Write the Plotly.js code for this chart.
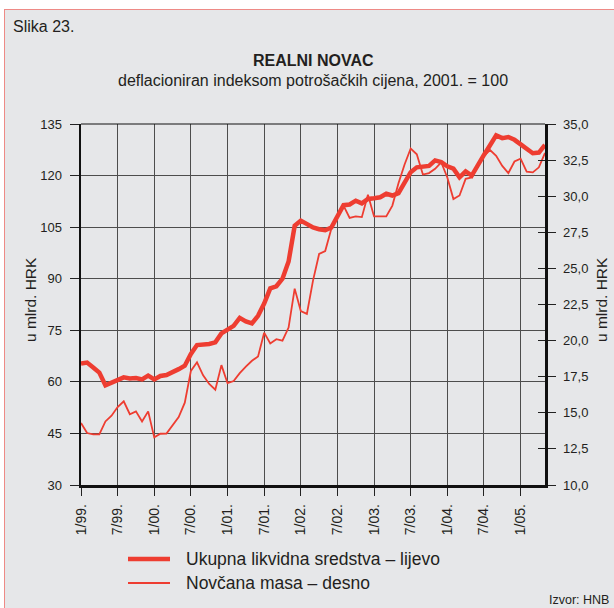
<!DOCTYPE html>
<html>
<head>
<meta charset="utf-8">
<script src="https://cdn.plot.ly/plotly-3.0.1.min.js"></script>
<style>
  html, body { margin: 0; padding: 0; background: #ffffff; }
  #frame { position: absolute; left: 4px; top: 9px; width: 700px; height: 700px;
           background: #e6e7e9; border: 1px solid #ee8a86; }
  #chart { position: absolute; left: 0; top: 0; width: 614px; height: 608px; }
</style>
</head>
<body>
<div id="frame"></div>
<div id="chart"></div>
<script>
// ---- data (monthly, 1/1999 .. 5/2005) ----
const tickLabels = ['1/99.', '7/99.', '1/00.', '7/00.', '1/01.', '7/01.', '1/02.', '7/02.', '1/03.', '7/03.', '1/04.', '7/04.', '1/05.'];
const tickMonths = [0, 6, 12, 18, 24, 30, 36, 42, 48, 54, 60, 66, 72];

// Ukupna likvidna sredstva (left axis)
const ukupna = [
  65.3, 65.6, 64.2, 62.7, 59.0, 59.8, 60.5, 61.3, 61.0, 61.1, 60.7, 61.8,
  60.7, 61.7, 62.0, 62.7, 63.7, 64.7, 68.1, 70.7, 70.7, 71.0, 71.5, 74.1,
  75.2, 76.3, 78.6, 77.6, 77.0, 79.2, 82.8, 87.2, 87.8, 90.0, 95.0, 105.4,
  106.9, 105.9, 104.9, 104.4, 104.1, 104.9, 108.2, 111.4, 111.6, 112.7, 111.9, 113.2,
  113.4, 113.7, 114.7, 114.2, 114.9, 117.8, 121.0, 122.4, 122.5, 122.8, 124.4, 123.9,
  122.7, 122.0, 119.5, 121.2, 120.0, 123.3, 126.0, 128.8, 131.7, 130.9, 131.2, 130.4,
  129.0, 127.9, 126.5, 126.7, 128.9
];

// Novčana masa (right axis)
const novcana = [
  14.3, 13.6, 13.5, 13.5, 14.4, 14.8, 15.4, 15.8, 14.9, 15.1, 14.4, 15.1,
  13.3, 13.55, 13.56, 14.1, 14.7, 15.7, 17.9, 18.5, 17.6, 17.0, 16.6, 18.3,
  17.05, 17.2, 17.75, 18.2, 18.6, 18.9, 20.55, 19.8, 20.1, 20.0, 20.9, 23.6,
  22.05, 21.85, 24.15, 26.0, 26.2, 27.75, 28.65, 29.35, 28.5, 28.6, 28.55, 30.1,
  28.6, 28.6, 28.6, 29.35, 30.9, 32.2, 33.3, 32.9, 31.5, 31.6, 31.9, 32.35,
  31.3, 29.8, 30.05, 31.2, 31.3, 32.1, 32.8, 33.2, 32.8, 32.1, 31.6, 32.4,
  32.6, 31.7, 31.65, 32.0, 33.0
];

const months = ukupna.map((_, i) => i);

const seriesNames = ['Ukupna likvidna sredstva – lijevo', 'Novčana masa – desno'];

// ---- layout helpers (pixel -> paper) ----
const W = 614, H = 608;
const L = 81, R = 545, T = 124, B = 485;
const px = x => (x - L) / (R - L);
const py = y => (B - y) / (B - T);

const red = '#ee3d31';
const txt = '#231f20';
const fontFam = 'Liberation Sans, Arial, Helvetica, sans-serif';
const thickW = 4.5, thinW = 1.8;

const traces = [
  { x: months, y: ukupna, name: seriesNames[0], type: 'scatter', mode: 'lines',
    line: { color: red, width: thickW }, yaxis: 'y' },
  { x: months, y: novcana, name: seriesNames[1], type: 'scatter', mode: 'lines',
    line: { color: red, width: thinW }, yaxis: 'y2' },
  // invisible trace to activate yaxis3 (inside ticks on the right axis)
  { x: [0], y: [10], yaxis: 'y3', type: 'scatter', mode: 'markers',
    marker: { opacity: 0 }, showlegend: false, hoverinfo: 'skip' }
];

const layout = {
  width: W, height: H,
  margin: { l: L, r: W - R, t: T, b: H - B, pad: 0 },
  paper_bgcolor: 'rgba(0,0,0,0)',
  plot_bgcolor: 'rgba(0,0,0,0)',
  separators: ',.',
  font: { family: fontFam, color: txt, size: 13 },
  showlegend: false,
  xaxis: {
    range: [0, 76], tickmode: 'array', tickvals: tickMonths, ticktext: tickLabels,
    tickangle: -90, ticks: 'outside', ticklen: 8, tickwidth: 1, tickcolor: '#222',
    ticklabelstandoff: 3,
    showgrid: true, gridcolor: '#4d4d4d', gridwidth: 1,
    showline: true, linecolor: '#111', linewidth: 2.5,
    zeroline: false, automargin: false, tickfont: { size: 14, color: txt }
  },
  yaxis: {
    range: [30, 135], dtick: 15, tick0: 30, ticks: 'outside', ticklen: 9, tickwidth: 1,
    ticklabelstandoff: 5,
    tickcolor: '#222', showgrid: true, gridcolor: '#4d4d4d', gridwidth: 1,
    showline: true, linecolor: '#111', linewidth: 2.5, zeroline: false, automargin: false,
    tickfont: { size: 13, color: txt }
  },
  yaxis2: {
    range: [10, 35], dtick: 2.5, tick0: 10, overlaying: 'y', side: 'right',
    tickformat: '.1f', ticks: 'outside', ticklen: 8, tickwidth: 1, tickcolor: '#222',
    ticklabelstandoff: 5, automargin: false,
    showgrid: false, showline: true, linecolor: '#111', linewidth: 2.5, zeroline: false,
    tickfont: { size: 13, color: txt }
  },
  yaxis3: {
    range: [10, 35], dtick: 2.5, tick0: 10, overlaying: 'y', side: 'right', anchor: 'x',
    ticks: 'inside', ticklen: 7, tickwidth: 1, tickcolor: '#222', automargin: false,
    showticklabels: false, showgrid: false, showline: false, zeroline: false
  },
  shapes: [
    { type: 'line', xref: 'paper', yref: 'paper', x0: 0, x1: 1, y0: 1, y1: 1,
      line: { color: '#111', width: 1 } },
    // legend keys
    { type: 'line', xref: 'paper', yref: 'paper', x0: px(128), x1: px(170), y0: py(559), y1: py(559),
      line: { color: red, width: thickW } },
    { type: 'line', xref: 'paper', yref: 'paper', x0: px(128), x1: px(170), y0: py(583), y1: py(583),
      line: { color: red, width: thinW } }
  ],
  annotations: [
    { text: 'Slika 23.', xref: 'paper', yref: 'paper', x: px(11), y: py(27),
      xanchor: 'left', yanchor: 'middle', showarrow: false, font: { size: 16, color: txt } },
    { text: '<b>REALNI NOVAC</b>', xref: 'paper', yref: 'paper', x: 0.5, y: py(61),
      xanchor: 'center', yanchor: 'middle', showarrow: false, font: { size: 16, color: txt } },
    { text: 'deflacioniran indeksom potrošačkih cijena, 2001. = 100', xref: 'paper', yref: 'paper',
      x: 0.5, y: py(80), xanchor: 'center', yanchor: 'middle', showarrow: false,
      font: { size: 16, color: txt } },
    { text: 'u mlrd. HRK', xref: 'paper', yref: 'paper', x: px(30), y: py(300), textangle: -90,
      xanchor: 'center', yanchor: 'middle', showarrow: false, font: { size: 15.5, color: txt } },
    { text: 'u mlrd. HRK', xref: 'paper', yref: 'paper', x: px(601), y: py(300), textangle: -90,
      xanchor: 'center', yanchor: 'middle', showarrow: false, font: { size: 15.5, color: txt } },
    { text: seriesNames[0], xref: 'paper', yref: 'paper', x: px(184), y: py(559),
      xanchor: 'left', yanchor: 'middle', showarrow: false, font: { size: 17.5, color: txt } },
    { text: seriesNames[1], xref: 'paper', yref: 'paper', x: px(184), y: py(583),
      xanchor: 'left', yanchor: 'middle', showarrow: false, font: { size: 17.5, color: txt } },
    { text: 'Izvor: HNB', xref: 'paper', yref: 'paper', x: px(611), y: py(600),
      xanchor: 'right', yanchor: 'middle', showarrow: false, font: { size: 12.5, color: txt } }
  ]
};

Plotly.newPlot('chart', traces, layout, { displayModeBar: false, staticPlot: true });
</script>
</body>
</html>
